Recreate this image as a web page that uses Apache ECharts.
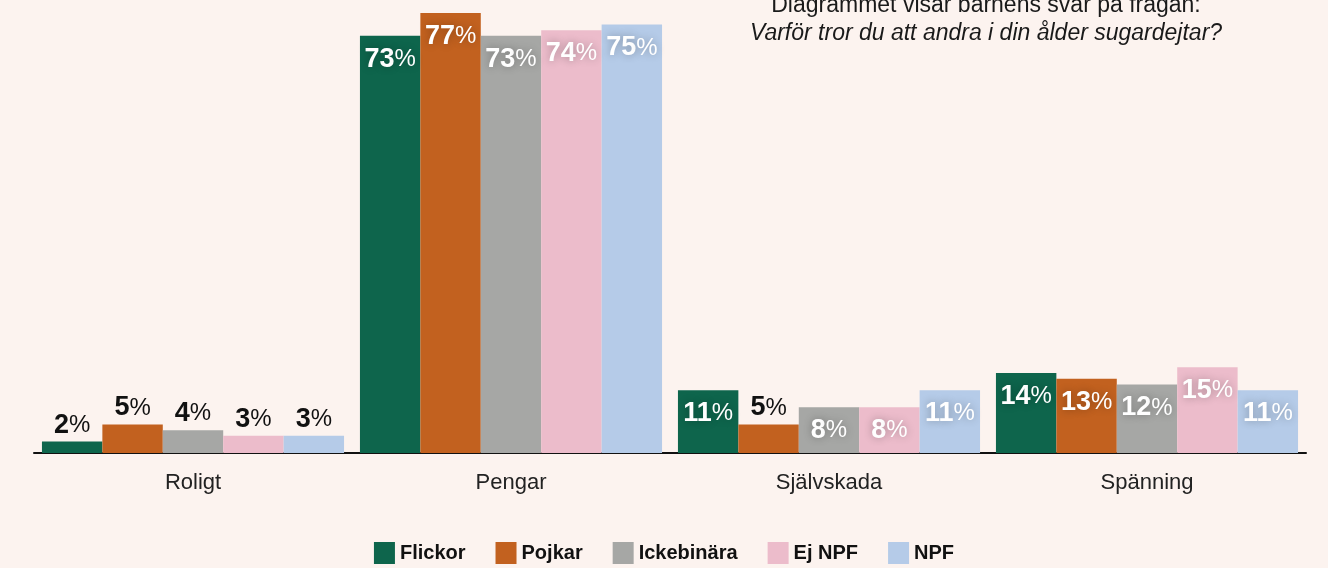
<!DOCTYPE html>
<html><head><meta charset="utf-8">
<script src="https://cdn.jsdelivr.net/npm/echarts@6/dist/echarts.min.js"></script>
<style>html,body{margin:0;padding:0;background:#fcf3ef;}#c{width:1328px;height:568px;}</style>
</head><body><div id="c"></div>
<script>
const categories = ['Roligt', 'Pengar', 'Självskada', 'Spänning'];
const seriesNames = ['Flickor', 'Pojkar', 'Ickebinära', 'Ej NPF', 'NPF'];
const flickor = [2, 73, 11, 14];
const pojkar = [5, 77, 5, 13];
const ickebinara = [4, 73, 8, 12];
const ejNpf = [3, 74, 8, 15];
const npf = [3, 75, 11, 11];
const colors = ['#0e654c', '#c2611f', '#a6a7a5', '#ecbccb', '#b5cbe8'];
const allValues = [flickor, pojkar, ickebinara, ejNpf, npf];

const FF = 'Liberation Sans, Arial, sans-serif';
const rich = {
  nw: {fontSize: 27, fontWeight: 'bold', color: '#fff', fontFamily: FF},
  pw: {fontSize: 24, fontWeight: 'normal', color: '#fff', fontFamily: FF},
  nb: {fontSize: 27, fontWeight: 'bold', color: '#111', fontFamily: FF},
  pb: {fontSize: 24, fontWeight: 'normal', color: '#111', fontFamily: FF}
};

const series = seriesNames.map((name, i) => ({
  name: name,
  type: 'bar',
  barGap: '0%',
  barCategoryGap: '5%',
  itemStyle: {color: colors[i]},
  data: allValues[i].map(v => {
    const inside = v > 5;
    return {
      value: v,
      label: inside ? {
        show: true, position: 'insideTop', distance: 10,
        formatter: p => '{nw|' + p.value + '}{pw|%}', rich: rich,
        textShadowColor: 'rgba(0,0,0,0.3)', textShadowBlur: 8
      } : {
        show: true, position: 'top', distance: 3,
        formatter: p => '{nb|' + p.value + '}{pb|%}', rich: rich
      }
    };
  })
}));

const chart = echarts.init(document.getElementById('c'));
chart.setOption({
  backgroundColor: '#fcf3ef',
  animation: false,
  title: {
    left: 981, top: -13, textAlign: 'center',
    text: '{a|Diagrammet visar barnens svar på frågan:}\n{b|Varför tror du att andra i din ålder sugardejtar?}',
    textStyle: {
      fontWeight: 'normal',
      rich: {
        a: {fontSize: 23, fontWeight: 'normal', color: '#1a1a1a', fontFamily: FF, lineHeight: 28, align: 'center'},
        b: {fontSize: 23, fontWeight: 'normal', color: '#1a1a1a', fontStyle: 'italic', fontFamily: FF, lineHeight: 28, align: 'center'}
      }
    }
  },
  legend: {
    bottom: -1, left: 'center',
    icon: 'rect', itemWidth: 21, itemHeight: 22, itemGap: 30,
    textStyle: {fontSize: 20, fontWeight: 'bold', color: '#111', fontFamily: FF},
    data: seriesNames
  },
  grid: {left: 34, right: 22, top: 13, bottom: 115},
  xAxis: {
    type: 'category', data: categories,
    axisLine: {lineStyle: {color: '#111', width: 2}},
    axisTick: {show: false},
    axisLabel: {fontSize: 22, color: '#222', margin: 19, fontFamily: FF}
  },
  yAxis: {type: 'value', min: 0, max: 77, show: false, splitLine: {show: false}},
  series: series
});
</script></body></html>
